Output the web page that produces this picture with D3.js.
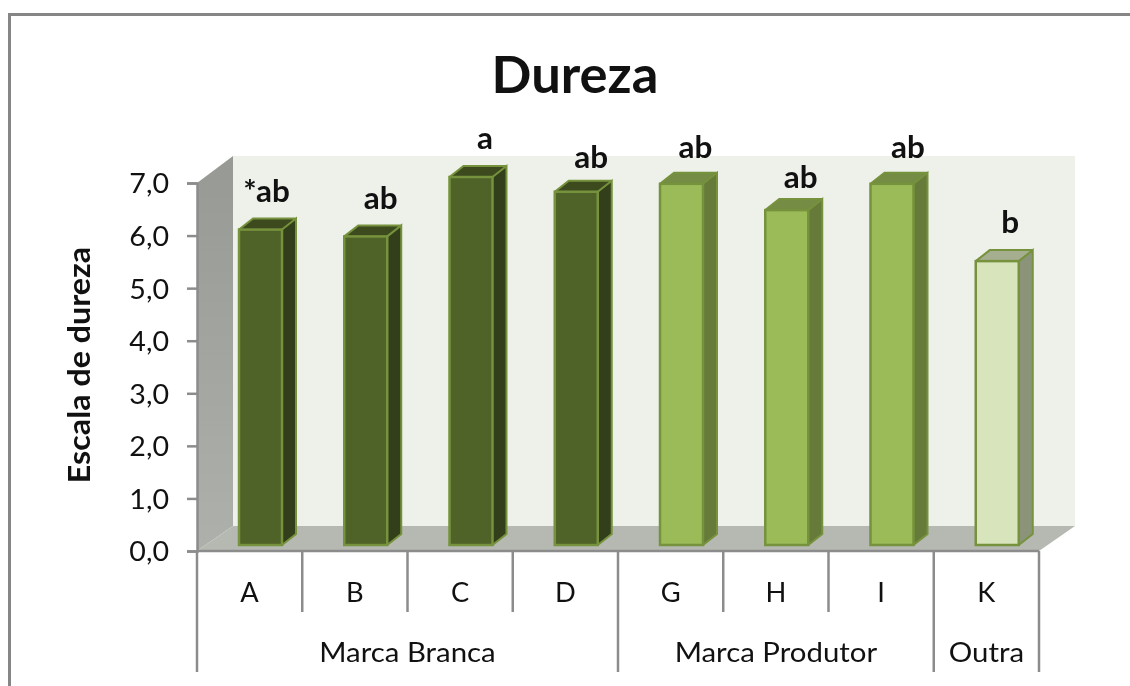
<!DOCTYPE html>
<html>
<head>
<meta charset="utf-8">
<script src="https://cdn.jsdelivr.net/npm/d3@7"></script>
<style>
    html, body { margin: 0; padding: 0; background: #fff; }
    svg { display: block; filter: blur(0.45px); }
    text { font-family: Lato, "Open Sans", sans-serif; fill: #111; }
</style>
</head>
<body>
<svg id="chart" width="1130" height="686"></svg>
<script>
'use strict';

const categories = ['A', 'B', 'C', 'D', 'G', 'H', 'I', 'K'];
const dureza = [6.0, 5.87, 7.0, 6.72, 6.87, 6.37, 6.87, 5.4];
const letters = ['*ab', 'ab', 'a', 'ab', 'ab', 'ab', 'ab', 'b'];
const groupNames = ['Marca Branca', 'Marca Branca', 'Marca Branca', 'Marca Branca',
    'Marca Produtor', 'Marca Produtor', 'Marca Produtor', 'Outra'];
const yTicks = [0, 1, 2, 3, 4, 5, 6, 7];

const svg = d3.select('#chart');

const x = d3.scaleBand().domain(categories).range([197, 1039]);
const y = d3.scaleLinear().domain([0, 7]).range([551, 183]);
// bars stand a bit behind the front edge of the floor
const yBar = d3.scaleLinear().domain([0, 7]).range([545, 177]);

const depth = {dx: 36, dy: -25};
const barDepth = {dx: 14, dy: -11};
const barLeft = 42;
const barWidth = 43;

const colors = {
    'Marca Branca': {front: '#4f6228', side: '#333f1a', top: '#3c4a1e'},
    'Marca Produtor': {front: '#9bbb59', side: '#667a3a', top: '#748c43'},
    'Outra': {front: '#d8e4bc', side: '#8b9478', top: '#a6ae90'}
};
const barStroke = '#76923c';
const axisColor = '#8c8c8c';

// the original text is wider than Lato, so stretch it to fit
const stretch = (sel, k) => sel.each(function() {
    d3.select(this)
        .attr('textLength', this.getComputedTextLength() * k)
        .attr('lengthAdjust', 'spacingAndGlyphs');
});

var defs = svg.append('defs');
var wallGrad = defs.append('linearGradient').attr('id', 'wallGrad')
    .attr('x1', 0).attr('y1', 0).attr('x2', 0).attr('y2', 1);
wallGrad.append('stop').attr('offset', '0%').attr('stop-color', '#979a94');
wallGrad.append('stop').attr('offset', '100%').attr('stop-color', '#aeb1ab');

// outer frame, only top and left end up inside the picture
svg.append('path')
    .attr('d', 'M9.5,686V14.5H1130')
    .attr('fill', 'none')
    .attr('stroke', '#868686')
    .attr('stroke-width', 3);

svg.append('text')
    .attr('x', 575)
    .attr('y', 93)
    .attr('text-anchor', 'middle')
    .style('font-size', '52.5px')
    .style('font-weight', 700)
    .text('Dureza');

const x0 = x.range()[0], x1 = x.range()[1];
const yBase = y(0), yTop = y(7);

// back wall, side wall, floor
svg.append('rect')
    .attr('x', x0 + depth.dx)
    .attr('y', yTop + depth.dy - 2)
    .attr('width', x1 - x0)
    .attr('height', yBase - yTop + 2)
    .attr('fill', '#eef1ea');

svg.append('polygon')
    .attr('points', [[x0, yTop], [x0 + depth.dx, yTop + depth.dy - 2],
        [x0 + depth.dx, yBase + depth.dy], [x0, yBase]].join(' '))
    .attr('fill', 'url(#wallGrad)');

svg.append('polygon')
    .attr('points', [[x0, yBase], [x0 + depth.dx, yBase + depth.dy],
        [x1 + depth.dx, yBase + depth.dy], [x1, yBase]].join(' '))
    .attr('fill', '#b6b9b2');

// bars
const bars = svg.append('g').selectAll('g')
    .data(categories)
    .enter().append('g')
    .each(function(c, i) {
        const g = d3.select(this);
        const color = colors[groupNames[i]];
        const l = x(c) + barLeft, r = l + barWidth;
        const t = yBar(dureza[i]), b = yBar(0);
        const dx = barDepth.dx, dy = barDepth.dy;

        g.append('polygon')
            .attr('points', [[r, t], [r + dx, t + dy], [r + dx, b + dy], [r, b]].join(' '))
            .attr('fill', color.side);
        g.append('polygon')
            .attr('points', [[l, t], [l + dx, t + dy], [r + dx, t + dy], [r, t]].join(' '))
            .attr('fill', color.top);
        g.append('path')
            .attr('d', `M${r},${t}L${r + dx},${t + dy}V${b + dy}L${r},${b}M${l},${t}L${l + dx},${t + dy}H${r + dx}`)
            .attr('fill', 'none')
            .attr('stroke', barStroke)
            .attr('stroke-width', 2);
        g.append('rect')
            .attr('x', l)
            .attr('y', t)
            .attr('width', barWidth)
            .attr('height', b - t)
            .attr('fill', color.front)
            .attr('stroke', barStroke)
            .attr('stroke-width', 2.5);
    });

// letters over the bars, placed by hand like the original
const labelShift = [[6, -28], [15, -27], [14, -28], [15, -24], [14, -26], [14, -22], [16, -26], [13, -28]];
svg.append('g').selectAll('text')
    .data(categories)
    .enter().append('text')
    .attr('x', (c, i) => x(c) + barLeft + barWidth / 2 + labelShift[i][0])
    .attr('y', (c, i) => yBar(dureza[i]) + labelShift[i][1])
    .attr('text-anchor', 'middle')
    .style('font-size', '30px')
    .style('font-weight', 700)
    .text((c, i) => letters[i])
    .call(stretch, 1.05);

// y axis
const yAxis = svg.append('g')
    .attr('transform', `translate(${x0},0)`)
    .call(d3.axisLeft(y).tickValues(yTicks).tickSize(10).tickPadding(18)
        .tickFormat(d => d3.format('.1f')(d).replace('.', ',')));
yAxis.select('.domain').attr('stroke', axisColor).attr('stroke-width', 2.5);
yAxis.selectAll('.tick line').attr('stroke', axisColor).attr('stroke-width', 2.5);
yAxis.selectAll('.tick text')
    .style('font-size', '26px')
    .attr('fill', '#111')
    .attr('dy', '0.38em')
    .call(stretch, 1.1);

svg.append('text')
    .attr('transform', 'translate(90,365) rotate(-90)')
    .attr('text-anchor', 'middle')
    .style('font-size', '30px')
    .style('font-weight', 700)
    .text('Escala de dureza')
    .call(stretch, 1.075);

// category axis with two levels
const groups = Array.from(new Set(groupNames));
const lineY0 = yBase, lineY1 = 612, lineY2 = 672;

svg.append('line')
    .attr('x1', x0).attr('x2', x1)
    .attr('y1', yBase).attr('y2', yBase)
    .attr('stroke', axisColor).attr('stroke-width', 2.5);

const edges = categories.map(c => x(c)).concat([x1]);
svg.append('g').selectAll('line')
    .data(edges)
    .enter().append('line')
    .attr('x1', d => d).attr('x2', d => d)
    .attr('y1', lineY0)
    .attr('y2', (d, i) => (i === categories.length || i === 0 || groupNames[i] !== groupNames[i - 1]) ? lineY2 : lineY1)
    .attr('stroke', axisColor)
    .attr('stroke-width', 2.5);

svg.append('g').selectAll('text')
    .data(categories)
    .enter().append('text')
    .attr('x', c => x(c) + x.bandwidth() / 2)
    .attr('y', 602)
    .attr('text-anchor', 'middle')
    .style('font-size', '26px')
    .text(c => c)
    .call(stretch, 1.05);

svg.append('g').selectAll('text')
    .data(groups)
    .enter().append('text')
    .attr('x', g => {
        const members = categories.filter((c, i) => groupNames[i] === g);
        return (x(members[0]) + x(members[members.length - 1]) + x.bandwidth()) / 2;
    })
    .attr('y', 662)
    .attr('text-anchor', 'middle')
    .style('font-size', '26px')
    .text(g => g)
    .call(stretch, 1.13);
</script>
</body>
</html>
